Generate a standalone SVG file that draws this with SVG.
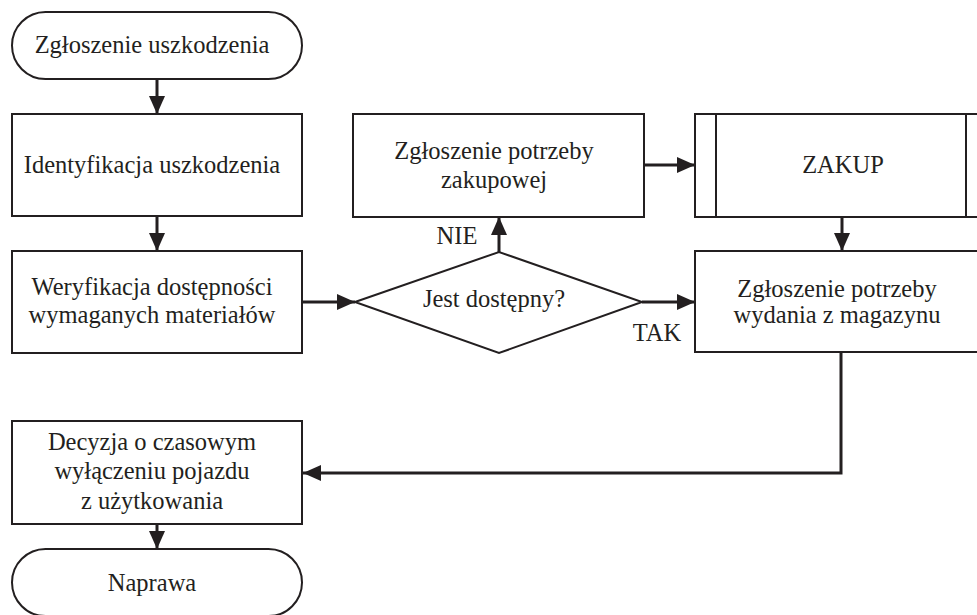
<svg xmlns="http://www.w3.org/2000/svg" width="977" height="615" viewBox="0 0 977 615">
<style>
.s{fill:#fff;stroke:#231f20;stroke-width:2}
.t{font-family:"Liberation Serif","Times New Roman",serif;font-size:24.5px;fill:#231f20;text-anchor:middle}
.c{fill:none;stroke:#231f20;stroke-width:3}
</style>
<defs>
<marker id="ah" markerUnits="userSpaceOnUse" viewBox="0 0 18 16" refX="18" refY="8" markerWidth="18" markerHeight="16" orient="auto">
<path d="M0,0 L18,8 L0,16 z" fill="#231f20"/>
</marker>
</defs>
<rect width="977" height="615" fill="#fff"/>
<g id="connectors">
<line class="c" x1="157" y1="79" x2="157" y2="114" marker-end="url(#ah)"/>
<line class="c" x1="157" y1="216" x2="157" y2="251" marker-end="url(#ah)"/>
<line class="c" x1="302" y1="302" x2="355" y2="302" marker-end="url(#ah)"/>
<line class="c" x1="499" y1="252" x2="499" y2="217" marker-end="url(#ah)"/>
<line class="c" x1="642" y1="302" x2="695" y2="302" marker-end="url(#ah)"/>
<line class="c" x1="644" y1="165" x2="695" y2="165" marker-end="url(#ah)"/>
<line class="c" x1="842" y1="217" x2="842" y2="251" marker-end="url(#ah)"/>
<polyline class="c" points="841,352 841,473 303,473" marker-end="url(#ah)"/>
<line class="c" x1="157" y1="524" x2="157" y2="549" marker-end="url(#ah)"/>
<text class="t" x="457" y="244">NIE</text>
<text class="t" x="657" y="341">TAK</text>
</g>
<g id="start">
<rect class="s" x="12" y="12" width="290" height="67" rx="33.5" ry="33.5"/>
<text class="t" x="152" y="53">Zgłoszenie uszkodzenia</text>
</g>
<g id="identyfikacja">
<rect class="s" x="12" y="114" width="290" height="102"/>
<text class="t" x="152" y="173">Identyfikacja uszkodzenia</text>
</g>
<g id="weryfikacja">
<rect class="s" x="12" y="251" width="290" height="102"/>
<text class="t" x="152" y="295">Weryfikacja dostępności</text>
<text class="t" x="152" y="323">wymaganych materiałów</text>
</g>
<g id="decision">
<polygon class="s" points="355,302 499,252 642,302 499,353"/>
<text class="t" x="494" y="307">Jest dostępny?</text>
</g>
<g id="zakupowa">
<rect class="s" x="353" y="114" width="291" height="103"/>
<text class="t" x="494" y="159">Zgłoszenie potrzeby</text>
<text class="t" x="494" y="188">zakupowej</text>
</g>
<g id="zakup">
<rect class="s" x="695" y="114" width="292" height="103"/>
<line class="s" x1="716" y1="114" x2="716" y2="217"/>
<line class="s" x1="966" y1="114" x2="966" y2="217"/>
<text class="t" x="843" y="173">ZAKUP</text>
</g>
<g id="wydanie">
<rect class="s" x="695" y="251" width="292" height="101"/>
<text class="t" x="837" y="297">Zgłoszenie potrzeby</text>
<text class="t" x="837" y="323">wydania z magazynu</text>
</g>
<g id="decyzja">
<rect class="s" x="12" y="421" width="290" height="103"/>
<text class="t" x="152" y="450">Decyzja o czasowym</text>
<text class="t" x="152" y="479">wyłączeniu pojazdu</text>
<text class="t" x="152" y="509">z użytkowania</text>
</g>
<g id="naprawa">
<rect class="s" x="12" y="549" width="290" height="67" rx="33.5" ry="33.5"/>
<text class="t" x="152" y="591">Naprawa</text>
</g>
</svg>
